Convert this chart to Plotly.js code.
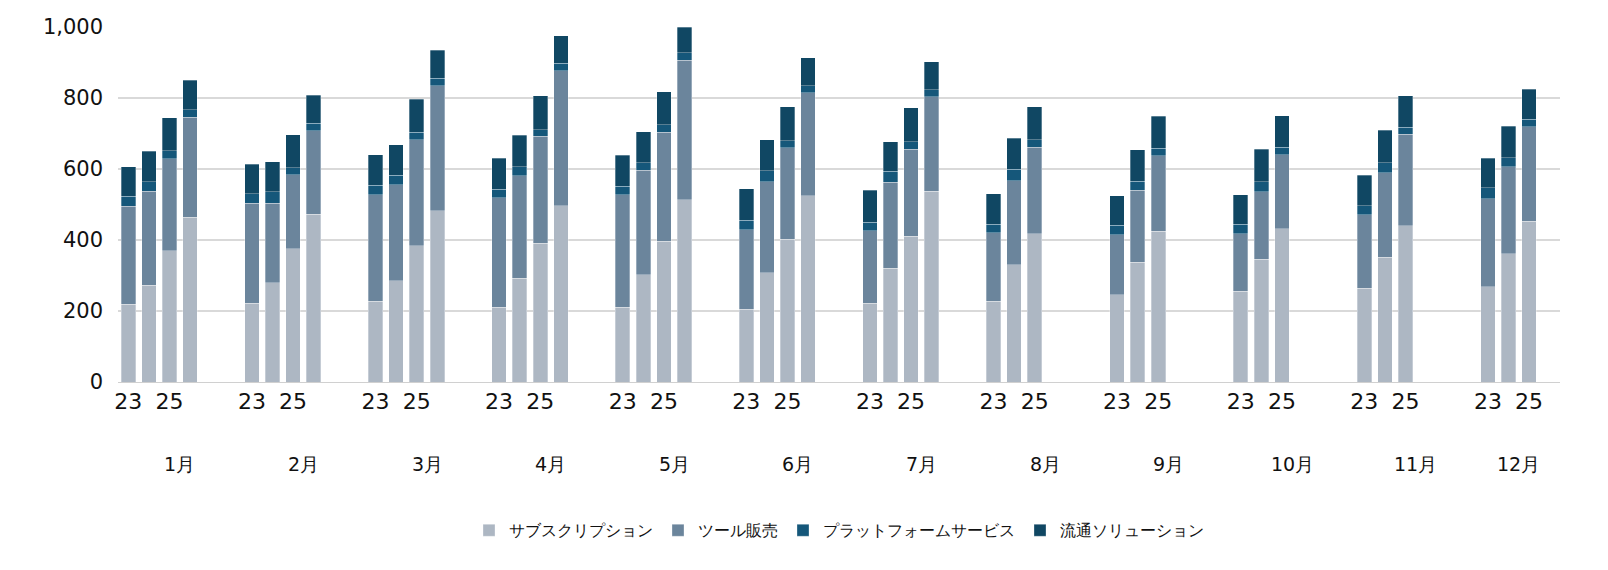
<!DOCTYPE html>
<html><head><meta charset="utf-8">
<script src="https://cdn.plot.ly/plotly-3.0.1.min.js"></script>
<style>body{margin:0;background:#fff}</style></head>
<body><div id="c" style="width:1608px;height:570px"></div>
<script>
const months=['1月','2月','3月','4月','5月','6月','7月','8月','9月','10月','11月','12月'];
const years=['23','24','25','26'];
const seriesNames=['サブスクリプション','ツール販売','プラットフォームサービス','流通ソリューション'];
const colors=['#adb7c3','#6b859c','#15577a','#104763'];
// per month, per year [23,24,25,26]
const sub=[[219,273,370,464],[222,279,376,472],[227,285,384,483],[210,292,391,497],[210,302,397,514],[205,308,402,525],[222,320,410,537],[228,331,417,null],[246,338,425,null],[256,346,432,null],[264,352,440,null],[269,361,453,null]];
const tool=[[276,264,259,282],[281,224,208,236],[301,270,299,352],[309,289,301,380],[317,295,307,392],[224,256,258,290],[204,242,246,266],[192,236,244,null],[169,202,212,null],[161,190,208,null],[207,237,258,null],[247,245,266,null]];
const plat=[[28,27,23,21],[27,33,20,21],[26,27,20,21],[24,25,19,21],[24,21,20,21],[26,31,20,19],[24,31,21,20],[25,32,22,null],[26,25,21,null],[27,28,21,null],[26,28,20,null],[31,26,21,null]];
const ryu=[[83,86,92,83],[84,85,93,79],[86,86,94,79],[88,89,95,78],[88,87,94,73],[90,87,95,80],[90,84,95,79],[85,87,92,null],[83,89,90,null],[83,92,89,null],[85,92,89,null],[83,88,85,null]];
const data=[sub,tool,plat,ryu];

const cats=[];const tickvals=[];const ticktext=[];const monthCenters=[];
months.forEach((m,i)=>{
  const start=cats.length;
  years.forEach(y=>cats.push(m+'-'+y));
  tickvals.push(m+'-23',m+'-25');ticktext.push('23','25');
  if(i<months.length-1){cats.push(m+'-g1',m+'-g2');monthCenters.push(start+2.5);}
  else monthCenters.push(start+1.5);
});
const traces=seriesNames.map((n,s)=>{
  const x=[],y=[];
  months.forEach((m,i)=>years.forEach((yr,j)=>{x.push(m+'-'+yr);y.push(data[s][i][j]);}));
  return {type:'bar',name:n,x:x,y:y,marker:{color:colors[s],line:{color:'rgba(255,255,255,0.6)',width:0.5}}};
});
const ann=months.map((m,i)=>({x:monthCenters[i],y:-0.268,xref:'x',yref:'paper',text:m,showarrow:false,font:{size:19,color:'#111'}}));
Plotly.newPlot('c',traces,{
  barmode:'stack',bargap:0.3,
  width:1608,height:570,
  margin:{l:118,r:48,t:27,b:188},
  paper_bgcolor:'#fff',plot_bgcolor:'#fff',
  font:{family:'DejaVu Sans, Verdana, sans-serif',color:'#111'},
  xaxis:{type:'category',categoryorder:'array',categoryarray:cats,range:[-0.5,cats.length-0.5],
    tickmode:'array',tickvals:tickvals,ticktext:ticktext,tickfont:{size:22},ticks:'',
    showline:true,linecolor:'#d0d0d0',showgrid:false},
  yaxis:{range:[0,1000],dtick:200,tickformat:',d',tickfont:{size:21},gridcolor:'#d9d9d9',gridwidth:1.5,zeroline:false,ticks:'',ticklabelstandoff:14},
  legend:{orientation:'h',x:0.5,xanchor:'center',y:-0.37,yanchor:'top',font:{size:16},traceorder:'normal'},
  annotations:ann,showlegend:true
},{staticPlot:true});
</script></body></html>
